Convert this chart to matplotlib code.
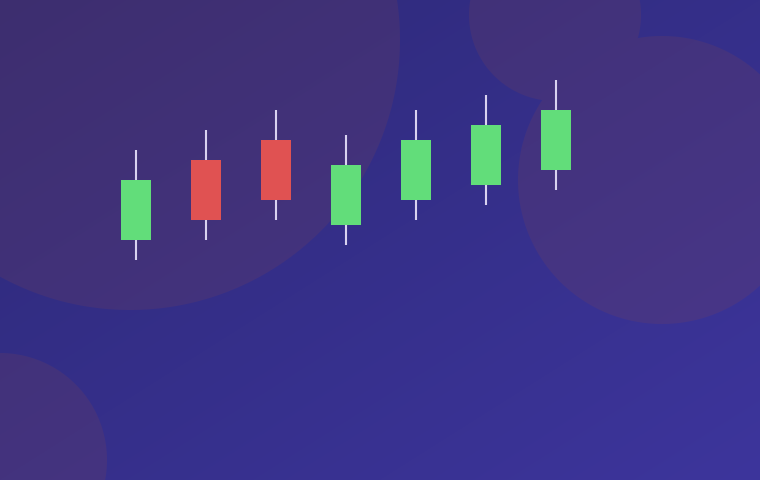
import numpy as np
import matplotlib.pyplot as plt
from matplotlib.patches import Rectangle
from matplotlib.colors import to_rgb

# candle data (arbitrary price units)
days = [0, 1, 2, 3, 4, 5, 6]
opens = [24.0, 32.0, 34.0, 25.5, 28.0, 29.5, 31.0]
closes = [30.0, 26.0, 28.0, 31.5, 34.0, 35.5, 37.0]
highs = [33.0, 35.0, 37.0, 34.5, 37.0, 38.5, 40.0]
lows = [22.0, 24.0, 26.0, 23.5, 26.0, 27.5, 29.0]

# decorative background circles (pixel x, y, radius)
circles = [(130, 40, 270), (555, 15, 86), (662, 180, 144), (0, 460, 107)]

up_color = "#62dd7a"
down_color = "#e05252"
wick_color = "#d9d2f0"

W, H = 760, 480
fig = plt.figure(figsize=(7.6, 4.8), dpi=100)

# background: diagonal gradient with soft overlapping circles (no double tint)
yy, xx = np.mgrid[0:H, 0:W] + 0.5
t = ((xx / W + yy / H) / 2)[..., None]
c0, c1 = np.array(to_rgb("#2d2977")), np.array(to_rgb("#3d359c"))
img = c0 * (1 - t) + c1 * t
mask = np.zeros((H, W))
for cx, cy, r in circles:
    d = np.hypot(xx - cx, yy - cy)
    mask = np.maximum(mask, np.clip(r - d + 0.5, 0, 1))
tint = np.array(to_rgb("#7e4350"))
img = img * (1 - 0.2 * mask[..., None]) + tint * 0.2 * mask[..., None]

bg = fig.add_axes([0, 0, 1, 1])
bg.imshow(img, extent=(0, W, H, 0), aspect="auto", interpolation="nearest")
bg.axis("off")

ax = fig.add_axes([0, 0, 1, 1])
ax.patch.set_alpha(0)
ax.axis("off")
ax.set_xlim(-136 / 70, 624 / 70)
ax.set_ylim(0, 48)

width = 30 / 70
for d, o, c, h, l in zip(days, opens, closes, highs, lows):
    color = up_color if c >= o else down_color
    ax.vlines(d, l, h, color=wick_color, lw=1.5, zorder=2)
    ax.add_patch(Rectangle((d - width / 2, min(o, c)), width, abs(c - o),
                           color=color, lw=0, zorder=3))

fig.savefig("out.png", dpi=100)
